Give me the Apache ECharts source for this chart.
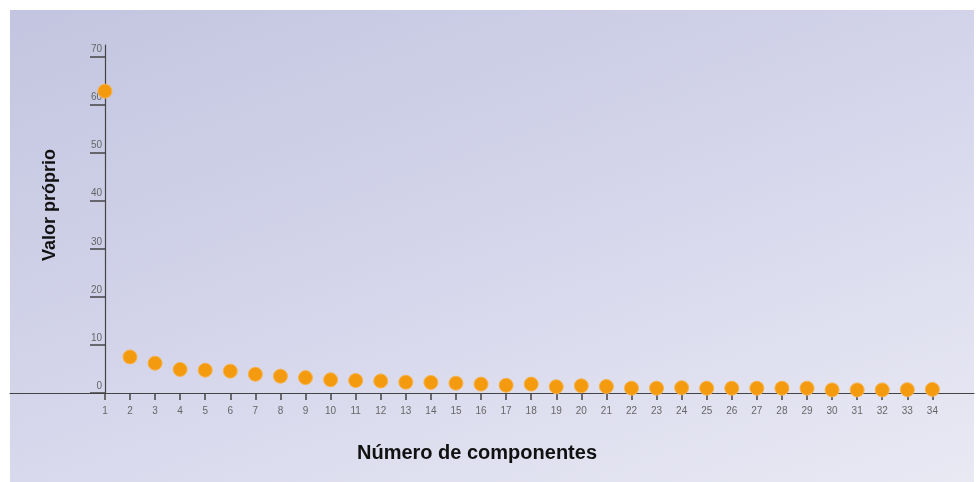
<!DOCTYPE html>
<html>
<head>
<meta charset="utf-8">
<script src="https://cdn.jsdelivr.net/npm/echarts@6/dist/echarts.min.js"></script>
<style>
html,body{margin:0;padding:0;background:#fff;}
#bg{position:absolute;left:10px;top:10px;width:964px;height:472px;
background:linear-gradient(160deg,#c3c5e0 0%,#d3d4ea 45%,#e9e9f4 100%);}
#chart{position:absolute;left:0;top:0;width:980px;height:482px;}
</style>
</head>
<body>
<div id="bg"></div>
<div id="chart"></div>
<script>
const components = [1,2,3,4,5,6,7,8,9,10,11,12,13,14,15,16,17,18,19,20,21,22,23,24,25,26,27,28,29,30,31,32,33,34];
const eigenvalues = [62.8,7.5,6.2,4.9,4.75,4.55,3.9,3.5,3.2,2.75,2.6,2.5,2.25,2.2,2.05,1.85,1.6,1.85,1.3,1.5,1.35,1.0,1.0,1.1,1.0,1.0,1.0,1.0,1.0,0.65,0.65,0.65,0.7,0.75];
const yTicks = [0,10,20,30,40,50,60,70];

const chart = echarts.init(document.getElementById('chart'), null, {renderer:'canvas'});
const data = components.map((c,i)=>[c, eigenvalues[i]]);
chart.setOption({
  animation:false,
  backgroundColor:'transparent',
  grid:{left:10,right:6,top:45,bottom:89,containLabel:false},
  xAxis:{
    type:'value',
    min:-2.785, max:35.66,
    name:'Número de componentes',
    nameLocation:'middle',
    nameGap:50,
    nameTextStyle:{fontFamily:'Liberation Sans',fontWeight:'bold',fontSize:20,color:'#111',padding:[0,30,0,0]},
    axisLine:{show:true,onZero:false,lineStyle:{color:'#444',width:1.2}},
    axisTick:{show:true,customValues:components,length:7,lineStyle:{color:'#444',width:1.5}},
    axisLabel:{show:true,customValues:components,margin:13,fontFamily:'Liberation Sans',fontSize:10,color:'#666'},
    splitLine:{show:false}
  },
  yAxis:{
    type:'value',
    min:0, max:72.4,
    position:'left',
    offset:-95,
    name:'Valor próprio',
    nameLocation:'middle',
    nameGap:46,
    nameTextStyle:{fontFamily:'Liberation Sans',fontWeight:'bold',fontSize:18,color:'#111',padding:[0,0,0,28]},
    axisLine:{show:true,lineStyle:{color:'#444',width:1.2}},
    axisTick:{show:true,customValues:yTicks,length:15,lineStyle:{color:'#444',width:1.5}},
    axisLabel:{show:true,customValues:yTicks,margin:3,verticalAlign:'bottom',padding:[0,0,2,0],fontFamily:'Liberation Sans',fontSize:10,color:'#666'},
    splitLine:{show:false}
  },
  series:[{
    type:'scatter',
    data:data,
    symbol:'circle',
    symbolSize:14,
    itemStyle:{color:'#f39a0e',borderColor:'#f7b24a',borderWidth:1,opacity:1}
  }]
});
</script>
</body>
</html>
